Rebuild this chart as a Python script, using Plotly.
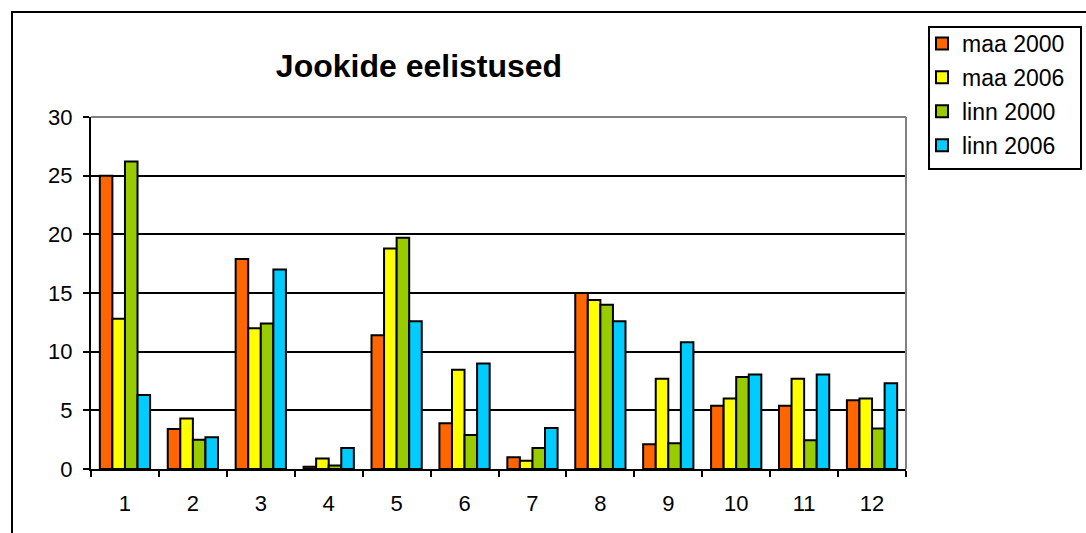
import plotly.graph_objects as go

# Grouped bar chart: drink preferences by area and year
categories = ["1", "2", "3", "4", "5", "6", "7", "8", "9", "10", "11", "12"]

maa_2000 = [25.0, 3.4, 17.9, 0.2, 11.4, 3.9, 1.0, 15.0, 2.1, 5.4, 5.4, 5.85]
maa_2006 = [12.8, 4.3, 12.0, 0.9, 18.8, 8.45, 0.7, 14.4, 7.7, 6.0, 7.7, 6.0]
linn_2000 = [26.2, 2.5, 12.4, 0.3, 19.7, 2.9, 1.8, 14.0, 2.2, 7.85, 2.45, 3.45]
linn_2006 = [6.3, 2.7, 17.0, 1.8, 12.6, 9.0, 3.5, 12.6, 10.8, 8.05, 8.05, 7.3]

series = [
    ("maa 2000", maa_2000, "#FF6600"),
    ("maa 2006", maa_2006, "#FFFF00"),
    ("linn 2000", linn_2000, "#99CC00"),
    ("linn 2006", linn_2006, "#00CCFF"),
]

FONT = "Liberation Sans, Arial, sans-serif"

fig = go.Figure()
for name, vals, color in series:
    fig.add_trace(go.Bar(
        x=categories, y=vals, name=name,
        legendgroup=name,
        marker=dict(color=color, line=dict(color="black", width=2)),
    ))

W, H = 1086, 533
L, R, T, B = 91, 180, 117, 64
pw, ph = W - L - R, H - T - B

def px_x(x):
    return (x - L) / pw

def px_y(y):
    return (H - B - y) / ph

fig.update_layout(
    width=W, height=H,
    margin=dict(l=L, r=R, t=T, b=B, pad=0, autoexpand=False),
    paper_bgcolor="white", plot_bgcolor="white",
    barmode="group", bargap=0.26, bargroupgap=0,
    font=dict(family=FONT, size=22, color="black"),
    title=dict(
        text="<b>Jookide eelistused</b>",
        font=dict(family=FONT, size=32, color="black"),
        xref="container", x=419 / W, xanchor="center",
        yref="container", y=1 - 66 / H, yanchor="middle",
    ),
    legend=dict(
        x=px_x(922), y=px_y(22), xanchor="left", yanchor="top",
        borderwidth=0, bgcolor="rgba(0,0,0,0)",
        font=dict(family=FONT, size=23, color="black"),
        tracegroupgap=1, itemclick=False, itemwidth=30,
    ),
    xaxis=dict(
        type="category", tickson="boundaries",
        ticks="outside", ticklen=6, tickwidth=2, tickcolor="black",
        showline=True, linecolor="black", linewidth=2,
        showgrid=False, tickfont=dict(size=22),
        ticklabelstandoff=14,
    ),
    yaxis=dict(
        range=[0, 30], dtick=5, tick0=0,
        ticks="outside", ticklen=6, tickwidth=2, tickcolor="black",
        showline=True, linecolor="black", linewidth=2,
        showgrid=True, gridcolor="black", gridwidth=2,
        zeroline=False, tickfont=dict(size=22),
        ticklabelstandoff=6,
    ),
    shapes=[
        # gray top and right edges of the plot area
        dict(type="line", xref="paper", yref="paper", x0=0, x1=1, y0=1, y1=1,
             line=dict(color="#808080", width=2), layer="above"),
        dict(type="line", xref="paper", yref="paper", x0=1, x1=1, y0=0, y1=1,
             line=dict(color="#808080", width=2), layer="above"),
        # chart frame
        dict(type="rect", xref="paper", yref="paper",
             x0=px_x(12), x1=px_x(W + 20), y0=px_y(H + 20), y1=px_y(12),
             line=dict(color="black", width=2), fillcolor="rgba(0,0,0,0)",
             layer="below"),
        # legend box
        dict(type="rect", xref="paper", yref="paper",
             x0=px_x(929), x1=px_x(1081), y0=px_y(169), y1=px_y(27),
             line=dict(color="black", width=2), fillcolor="white",
             layer="below"),
    ],
)

fig.write_html("out.html")
